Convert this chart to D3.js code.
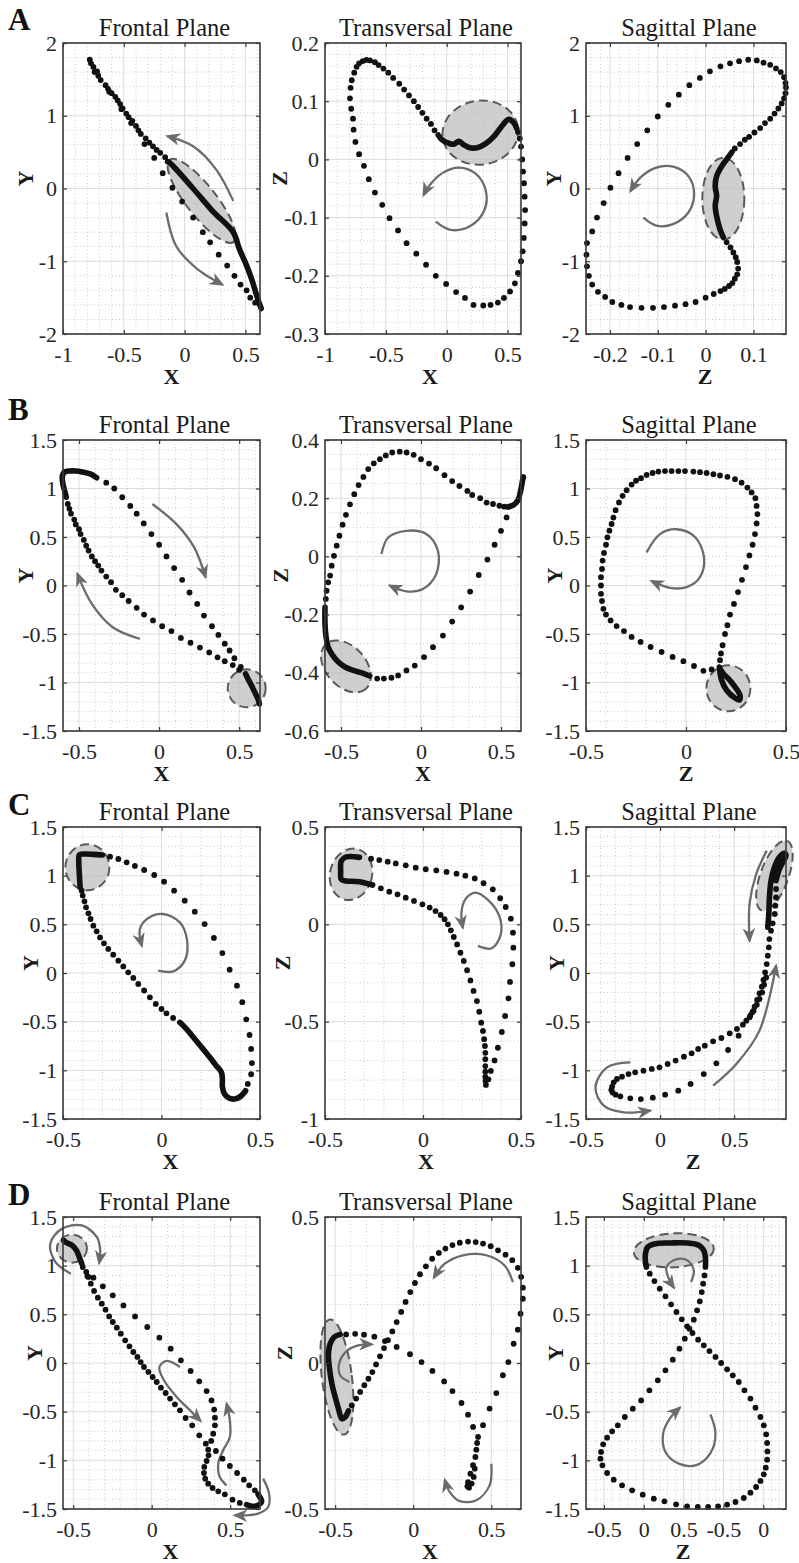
<!DOCTYPE html>
<html>
<head>
<meta charset="utf-8">
<script src="https://cdn.jsdelivr.net/npm/d3@7"></script>
<style>
body { margin: 0; background: #fff; }
</style>
</head>
<body>
<div id="chart"></div>
<script>
// ---------------- data ----------------
// tick values
const ticksX1 = [-1, -0.5, 0, 0.5];
const ticksHalf = [-0.5, 0, 0.5];
const ticksY2 = [-2, -1, 0, 1, 2];
const ticksY15 = [-1.5, -1, -0.5, 0, 0.5, 1, 1.5];
const ticksZA = [-0.3, -0.2, -0.1, 0, 0.1, 0.2];
const ticksZsag = [-0.2, -0.1, 0, 0.1];
const ticksZB = [-0.6, -0.4, -0.2, 0, 0.2, 0.4];
const ticksZC = [-1, -0.5, 0, 0.5];
const ticksZD = [-0.5, 0, 0.5];
const ticksSagD = [-0.5, 0, 0.5, 1, 1.5];
const labelsSagD = ["-0.5", "0", "0.5", "-0.5", "0"];

// ---- row A ----
const frontADots = [[-0.78,1.77],[-0.77,1.72],[-0.75,1.67],[-0.74,1.60],[-0.72,1.61],[-0.71,1.55],[-0.69,1.49],[-0.65,1.42],[-0.63,1.37],[-0.62,1.33],[-0.60,1.31],[-0.57,1.26],[-0.55,1.21],[-0.53,1.16],[-0.52,1.09],[-0.51,1.10],[-0.48,1.03],[-0.46,0.98],[-0.44,0.90],[-0.43,0.93],[-0.40,0.86],[-0.38,0.80],[-0.36,0.75],[-0.32,0.69],[-0.29,0.63],[-0.26,0.58],[-0.23,0.53],[-0.20,0.49],[-0.16,0.43],
  [-0.33,0.61],[-0.25,0.42],[-0.18,0.21],[-0.10,0.01],[-0.02,-0.18],[0.07,-0.40],[0.15,-0.60],[0.21,-0.74],[0.28,-0.91],[0.35,-1.06],[0.41,-1.20],[0.46,-1.32],[0.51,-1.40],[0.54,-1.50],[0.58,-1.57]];
const frontATrace = [[[-0.14,0.37],[-0.12,0.35],[0.07,0.0],[0.23,-0.31],[0.40,-0.60],[0.45,-0.83],[0.51,-1.06],[0.55,-1.24],[0.58,-1.40],[0.61,-1.56],[0.63,-1.65]]];
const frontAZone = [0.14, -0.17];
const frontAArrows = [
  [[0.40,-0.17],[0.26,0.26],[0.07,0.58],[-0.14,0.72]],
  [[-0.15,-0.33],[-0.07,-0.79],[0.10,-1.10],[0.31,-1.32]]
];

const transADots = [[0.585,0.047],[0.60,0.036],[0.61,0.022],[0.62,0.0],[0.627,-0.021],[0.635,-0.041],[0.64,-0.064],[0.644,-0.087],[0.64,-0.11],[0.633,-0.135],[0.624,-0.158],[0.61,-0.175],[0.585,-0.195],[0.56,-0.213],[0.52,-0.227],[0.47,-0.238],[0.42,-0.246],[0.36,-0.25],[0.30,-0.251],[0.22,-0.25],[0.15,-0.238],[0.077,-0.228],[-0.005,-0.214],[-0.09,-0.20],[-0.17,-0.181],[-0.25,-0.162],[-0.33,-0.144],[-0.40,-0.122],[-0.47,-0.101],[-0.53,-0.078],[-0.59,-0.057],[-0.64,-0.034],[-0.68,-0.011],[-0.72,0.009],[-0.75,0.030],[-0.765,0.051],[-0.77,0.070],[-0.785,0.087],[-0.795,0.105],[-0.79,0.123],[-0.78,0.136],[-0.76,0.149],[-0.74,0.159],[-0.72,0.165],[-0.69,0.169],[-0.66,0.171],[-0.63,0.170],[-0.59,0.167],[-0.56,0.162],[-0.52,0.156],[-0.48,0.149],[-0.44,0.140],[-0.39,0.130],[-0.35,0.12],[-0.31,0.11],[-0.27,0.10],[-0.235,0.09],[-0.20,0.08],[-0.165,0.07],[-0.13,0.061],[-0.10,0.05]];
const transATrace = [[[-0.07,0.042],[-0.04,0.034],[0.0,0.029],[0.055,0.026],[0.10,0.031],[0.14,0.025],[0.19,0.020],[0.25,0.020],[0.32,0.027],[0.39,0.040],[0.46,0.059],[0.51,0.069],[0.55,0.063],[0.575,0.053]]];
const transAZone = [0.276, 0.046];
const transAArrows = [
  [[-0.09,-0.107],[0.03,-0.121],[0.19,-0.115],[0.31,-0.087],[0.32,-0.053],[0.235,-0.024],[0.10,-0.014],[-0.04,-0.024],[-0.15,-0.047],[-0.19,-0.061]]
];

const sagADots = [[0.044,-0.74],[0.052,-0.81],[0.058,-0.88],[0.063,-0.945],[0.066,-1.01],[0.068,-1.10],[0.066,-1.18],[0.061,-1.24],[0.056,-1.30],[0.049,-1.34],[0.040,-1.38],[0.031,-1.41],[0.017,-1.45],[0.0,-1.50],[-0.021,-1.56],[-0.042,-1.59],[-0.064,-1.61],[-0.087,-1.63],[-0.11,-1.64],[-0.134,-1.64],[-0.158,-1.63],[-0.176,-1.60],[-0.195,-1.56],[-0.21,-1.49],[-0.225,-1.42],[-0.237,-1.32],[-0.244,-1.20],[-0.248,-1.07],[-0.249,-0.91],[-0.248,-0.75],[-0.237,-0.59],[-0.227,-0.40],[-0.213,-0.20],[-0.199,0.01],[-0.182,0.21],[-0.163,0.42],[-0.143,0.61],[-0.122,0.80],[-0.10,0.99],[-0.078,1.15],[-0.056,1.29],[-0.034,1.42],[-0.012,1.52],[0.009,1.61],[0.031,1.68],[0.051,1.72],[0.07,1.75],[0.089,1.77],[0.107,1.76],[0.121,1.73],[0.135,1.70],[0.147,1.65],[0.157,1.60],[0.164,1.53],[0.167,1.45],[0.168,1.39],[0.167,1.31],[0.164,1.24],[0.159,1.17],[0.152,1.10],[0.144,1.03],[0.135,0.96],[0.124,0.90],[0.114,0.83],[0.102,0.77],[0.091,0.71],[0.082,0.67],[0.072,0.61],[0.061,0.55]];
const sagATrace = [[[0.055,0.50],[0.044,0.40],[0.033,0.30],[0.023,0.17],[0.020,0.03],[0.023,-0.10],[0.020,-0.24],[0.023,-0.38],[0.030,-0.56],[0.037,-0.67]]];
const sagAZone = [0.037, -0.14];
const sagAArrows = [
  [[-0.13,-0.40],[-0.103,-0.51],[-0.068,-0.49],[-0.036,-0.33],[-0.024,-0.08],[-0.036,0.17],[-0.068,0.30],[-0.106,0.28],[-0.137,0.145],[-0.157,-0.036]]
];

// ---- row B ----
const frontBDots = [[-0.57,0.84],[-0.56,0.79],[-0.55,0.74],[-0.53,0.68],[-0.52,0.63],[-0.50,0.58],[-0.49,0.53],[-0.47,0.47],[-0.455,0.41],[-0.44,0.36],[-0.42,0.30],[-0.40,0.25],[-0.38,0.205],[-0.36,0.154],[-0.33,0.092],[-0.30,0.034],[-0.27,-0.045],[-0.23,-0.10],[-0.19,-0.16],[-0.14,-0.23],[-0.094,-0.30],[-0.038,-0.36],[0.019,-0.42],[0.077,-0.47],[0.136,-0.54],[0.196,-0.59],[0.255,-0.64],[0.313,-0.69],[0.365,-0.74],[0.41,-0.78],[0.46,-0.82],[0.50,-0.87],
  [-0.33,1.06],[-0.28,1.00],[-0.23,0.91],[-0.18,0.82],[-0.14,0.74],[-0.096,0.64],[-0.048,0.53],[0.0,0.42],[0.046,0.30],[0.094,0.18],[0.144,0.058],[0.19,-0.072],[0.238,-0.19],[0.28,-0.31],[0.33,-0.42],[0.37,-0.51],[0.41,-0.60],[0.44,-0.67],[0.47,-0.75],[0.51,-0.84]];
const frontBTrace = [
  [[-0.58,0.91],[-0.59,0.98],[-0.60,1.04],[-0.605,1.11],[-0.60,1.15],[-0.59,1.17],[-0.56,1.18],[-0.52,1.18],[-0.48,1.17],[-0.43,1.15],[-0.39,1.11]],
  [[0.54,-0.91],[0.557,-0.97],[0.58,-1.04],[0.60,-1.11],[0.62,-1.18],[0.626,-1.22]]
];
const frontBZone = [0.547, -1.06];
const frontBArrows = [
  [[-0.042,0.84],[0.11,0.63],[0.22,0.39],[0.29,0.086]],
  [[-0.12,-0.55],[-0.29,-0.43],[-0.42,-0.19],[-0.51,0.12]]
];

const transBDots = [[0.55,0.171],[0.52,0.171],[0.49,0.174],[0.45,0.18],[0.41,0.185],[0.37,0.20],[0.32,0.211],[0.29,0.225],[0.24,0.242],[0.195,0.259],[0.147,0.279],[0.095,0.303],[0.05,0.319],[0.0,0.334],[-0.046,0.349],[-0.09,0.357],[-0.133,0.36],[-0.18,0.357],[-0.22,0.347],[-0.257,0.334],[-0.295,0.32],[-0.33,0.30],[-0.36,0.273],[-0.39,0.245],[-0.417,0.214],[-0.444,0.179],[-0.469,0.143],[-0.49,0.109],[-0.51,0.071],[-0.527,0.037],[-0.544,0.002],[-0.558,-0.032],[-0.568,-0.066],[-0.58,-0.089],[-0.59,-0.118],[-0.595,-0.146],
  [-0.274,-0.42],[-0.232,-0.42],[-0.185,-0.417],[-0.143,-0.409],[-0.091,-0.392],[-0.039,-0.375],[0.019,-0.346],[0.075,-0.312],[0.137,-0.272],[0.195,-0.224],[0.251,-0.175],[0.307,-0.121],[0.361,-0.064],[0.415,-0.011],[0.46,0.04],[0.50,0.088],[0.535,0.134]];
const transBTrace = [
  [[-0.60,-0.175],[-0.60,-0.232],[-0.593,-0.278],[-0.58,-0.312],[-0.552,-0.34],[-0.517,-0.363],[-0.475,-0.38],[-0.423,-0.392],[-0.37,-0.40],[-0.32,-0.411]],
  [[0.54,0.17],[0.577,0.176],[0.604,0.191],[0.618,0.214],[0.627,0.237],[0.635,0.262],[0.64,0.273]]
];
const transBZone = [-0.469, -0.378];
const transBArrows = [
  [[-0.247,0.008],[-0.205,0.065],[-0.091,0.088],[0.033,0.077],[0.106,0.019],[0.095,-0.061],[0.012,-0.112],[-0.091,-0.12],[-0.195,-0.10]]
];

const sagBDots = [[0.128,-0.866],[0.087,-0.88],[0.04,-0.83],[-0.013,-0.78],[-0.067,-0.736],[-0.122,-0.685],[-0.177,-0.634],[-0.227,-0.582],[-0.272,-0.53],[-0.31,-0.47],[-0.347,-0.418],[-0.377,-0.36],[-0.40,-0.30],[-0.413,-0.24],[-0.42,-0.16],[-0.425,-0.086],[-0.425,0.0],[-0.425,0.086],[-0.42,0.17],[-0.417,0.257],[-0.41,0.336],[-0.40,0.42],[-0.393,0.497],[-0.383,0.565],[-0.372,0.634],[-0.363,0.70],[-0.352,0.777],[-0.335,0.856],[-0.317,0.925],[-0.297,0.983],[-0.272,1.04],[-0.25,1.08],[-0.225,1.106],[-0.197,1.14],[-0.167,1.16],[-0.138,1.175],[-0.105,1.18],[-0.072,1.18],[-0.038,1.18],[-0.005,1.18],[0.037,1.175],[0.07,1.168],[0.103,1.16],[0.137,1.147],[0.17,1.134],[0.207,1.12],[0.245,1.096],[0.278,1.06],[0.307,1.01],[0.328,0.96],[0.347,0.90],[0.353,0.82],[0.357,0.736],[0.353,0.64],[0.345,0.53],[0.333,0.42],[0.317,0.31],[0.30,0.19],[0.28,0.058],[0.26,-0.068],[0.24,-0.19],[0.22,-0.30],[0.207,-0.41],[0.195,-0.50],[0.183,-0.616],[0.175,-0.70],[0.17,-0.77]];
const sagBTrace = [[[0.167,-0.84],[0.178,-0.976],[0.203,-1.08],[0.245,-1.16],[0.267,-1.18],[0.27,-1.13],[0.245,-1.045],[0.212,-0.96],[0.187,-0.91],[0.17,-0.856]]];
const sagBZone = [0.212, -1.06];
const sagBArrows = [
  [[-0.197,0.342],[-0.13,0.53],[-0.047,0.58],[0.045,0.50],[0.09,0.29],[0.07,0.086],[0.003,-0.017],[-0.08,-0.024],[-0.172,0.045]]
];

// ---- row C ----
const frontCDots = [[-0.261,1.195],[-0.219,1.171],[-0.177,1.137],[-0.135,1.10],[-0.088,1.058],[-0.037,1.007],[0.013,0.938],[0.064,0.846],[0.118,0.743],[0.169,0.63],[0.219,0.503],[0.266,0.36],[0.309,0.205],[0.346,0.034],[0.383,-0.13],[0.41,-0.30],[0.43,-0.476],[0.447,-0.637],[0.455,-0.78],[0.459,-0.925],[0.455,-1.04],[0.438,-1.14],
  [0.059,-0.462],[0.025,-0.414],[0.0,-0.37],[-0.029,-0.318],[-0.059,-0.25],[-0.088,-0.18],[-0.118,-0.113],[-0.143,-0.051],[-0.169,0.007],[-0.194,0.068],[-0.219,0.127],[-0.245,0.188],[-0.27,0.247],[-0.292,0.305],[-0.312,0.366],[-0.329,0.428],[-0.346,0.486],[-0.36,0.555],[-0.371,0.613],[-0.383,0.675],[-0.391,0.736],[-0.40,0.795],[-0.405,0.846]];
const frontCTrace = [
  [[-0.413,0.88],[-0.417,1.017],[-0.42,1.154],[-0.417,1.216],[-0.388,1.223],[-0.346,1.219],[-0.30,1.212]],
  [[0.427,-1.21],[0.40,-1.27],[0.371,-1.295],[0.342,-1.284],[0.32,-1.243],[0.309,-1.168],[0.309,-1.089],[0.304,-1.02],[0.278,-0.952],[0.245,-0.866],[0.211,-0.78],[0.169,-0.678],[0.126,-0.575],[0.093,-0.507]]
];
const frontCZone = [-0.376, 1.086];
const frontCArrows = [
  [[-0.017,0.024],[0.059,0.017],[0.118,0.127],[0.13,0.332],[0.093,0.52],[0.008,0.606],[-0.067,0.565],[-0.11,0.452],[-0.10,0.28]]
];

const transCDots = [[-0.215,0.185],[-0.172,0.168],[-0.13,0.154],[-0.088,0.137],[-0.046,0.12],[-0.003,0.103],[0.034,0.086],[0.064,0.068],[0.09,0.048],[0.11,0.026],[0.127,0.0],[0.142,-0.031],[0.157,-0.065],[0.174,-0.103],[0.191,-0.146],[0.208,-0.188],[0.225,-0.236],[0.242,-0.288],[0.258,-0.342],[0.275,-0.394],[0.287,-0.449],[0.297,-0.505],[0.306,-0.548],[0.312,-0.59],[0.316,-0.625],[0.318,-0.66],[0.318,-0.693],[0.318,-0.728],[0.318,-0.757],[0.318,-0.784],[0.319,-0.805],[0.321,-0.825],
  [0.334,-0.796],[0.346,-0.753],[0.365,-0.699],[0.382,-0.634],[0.402,-0.553],[0.419,-0.471],[0.436,-0.38],[0.444,-0.296],[0.456,-0.205],[0.461,-0.12],[0.459,-0.043],[0.448,0.029],[0.422,0.089],[0.394,0.134],[0.356,0.18],[0.309,0.211],[0.264,0.236],[0.216,0.25],[0.171,0.26],[0.12,0.269],[0.068,0.277],[0.014,0.283],[-0.037,0.291],[-0.088,0.303],[-0.139,0.313],[-0.18,0.322],[-0.223,0.33],[-0.265,0.337]];
const transCTrace = [[[-0.324,0.344],[-0.392,0.346],[-0.417,0.325],[-0.42,0.274],[-0.417,0.231],[-0.395,0.223],[-0.324,0.219],[-0.257,0.202]]];
const transCZone = [-0.367, 0.257];
const transCArrows = [
  [[0.28,-0.111],[0.351,-0.123],[0.397,-0.051],[0.389,0.043],[0.334,0.123],[0.267,0.163],[0.216,0.128],[0.196,0.06],[0.203,-0.017]]
];

const sagCDots = [[0.783,0.863],[0.783,0.777],[0.778,0.692],[0.774,0.606],[0.76,0.51],[0.749,0.435],
  [0.738,0.349],[0.734,0.264],[0.727,0.178],[0.72,0.092],[0.709,0.007],[0.698,-0.072],[0.687,-0.14],[0.671,-0.209],[0.655,-0.277],[0.638,-0.346],[0.622,-0.404],[0.604,-0.455],
  [0.716,-0.045],[0.702,-0.12],[0.689,-0.199],[0.671,-0.267],[0.653,-0.325],[0.631,-0.387],[0.609,-0.438],[0.582,-0.49],
  [0.559,-0.531],[0.519,-0.575],[0.47,-0.62],[0.414,-0.668],[0.358,-0.702],[0.302,-0.747],[0.257,-0.781],[0.213,-0.825],[0.161,-0.86],[0.105,-0.90],[0.051,-0.935],[-0.004,-0.969],[-0.056,-0.986],[-0.112,-1.003],[-0.168,-1.02],[-0.213,-1.038],[-0.257,-1.065],[-0.291,-1.089],[-0.313,-1.123],[-0.324,-1.168],[-0.329,-1.202],[-0.32,-1.229],[-0.30,-1.25],[-0.268,-1.267],[-0.201,-1.288],[-0.13,-1.295],[-0.049,-1.281],[0.034,-1.25],[0.123,-1.209],[0.206,-1.14],[0.295,-1.038],[0.38,-0.928],[0.459,-0.791],[0.53,-0.644]];
const sagCTrace = [[[0.727,0.47],[0.734,0.606],[0.738,0.777],[0.749,0.949],[0.772,1.086],[0.805,1.188],[0.839,1.229],[0.85,1.205],[0.828,1.137],[0.801,1.051],[0.783,0.949]]];
const sagCZone = [0.772, 1.0];
const sagCArrows = [
  [[0.72,1.257],[0.649,1.017],[0.604,0.709],[0.604,0.332]],
  [[0.358,-1.158],[0.515,-0.935],[0.671,-0.592],[0.783,0.075]],
  [[-0.201,-0.918],[-0.358,-0.969],[-0.436,-1.175],[-0.38,-1.363],[-0.246,-1.432],[-0.067,-1.414]]
];

// ---- row D ----
const frontDDots = [[-0.403,0.884],[-0.371,0.877],[-0.311,0.788],[-0.248,0.695],[-0.18,0.592],[-0.106,0.479],[-0.028,0.37],[0.049,0.26],[0.121,0.147],[0.186,0.027],[0.248,-0.082],[0.303,-0.188],[0.35,-0.288],[0.381,-0.384],[0.398,-0.479],[0.403,-0.562],[0.403,-0.64],[0.392,-0.726],[0.379,-0.801],
  [-0.439,0.986],[-0.417,0.935],[-0.409,0.89],[-0.388,0.815],[-0.367,0.74],[-0.343,0.671],[-0.318,0.61],[-0.294,0.548],[-0.271,0.479],[-0.248,0.421],[-0.222,0.363],[-0.197,0.301],[-0.169,0.233],[-0.142,0.171],[-0.117,0.113],[-0.091,0.062],[-0.07,0.01],[-0.049,-0.041],[-0.021,-0.092],[0.006,-0.144],[0.032,-0.195],[0.059,-0.253],[0.089,-0.308],[0.117,-0.366],[0.148,-0.425],[0.18,-0.486],[0.216,-0.565],[0.258,-0.64],[0.303,-0.743],
  [0.345,-0.829],[0.36,-0.89],[0.362,-0.949],[0.35,-1.007],[0.335,-1.068],[0.333,-1.13],[0.341,-1.188],[0.36,-1.24],[0.388,-1.284],[0.424,-1.318],[0.466,-1.349],[0.515,-1.404],[0.561,-1.438],
  [0.657,-1.308],[0.621,-1.257],[0.587,-1.199],[0.544,-1.13],[0.498,-1.058],[0.451,-0.983],[0.409,-0.904]];
const frontDTrace = [
  [[-0.561,1.26],[-0.54,1.233],[-0.508,1.209],[-0.48,1.158],[-0.46,1.082],[-0.445,1.02]],
  [[0.604,-1.455],[0.646,-1.473],[0.678,-1.462],[0.70,-1.428],[0.695,-1.394],[0.678,-1.349]]
];
const frontDZone = [-0.508, 1.175];
const frontDArrows = [
  [[-0.515,0.918],[-0.614,1.038],[-0.646,1.226],[-0.572,1.38],[-0.445,1.414],[-0.35,1.295],[-0.328,1.158],[-0.335,1.027]],
  [[0.18,-0.041],[0.095,0.021],[0.049,-0.041],[0.078,-0.178],[0.159,-0.349],[0.244,-0.486],[0.311,-0.596]],
  [[0.477,-1.257],[0.434,-1.171],[0.424,-1.034],[0.455,-0.897],[0.498,-0.76],[0.498,-0.589],[0.477,-0.418]],
  [[0.71,-1.188],[0.748,-1.342],[0.742,-1.479],[0.678,-1.548],[0.604,-1.565],[0.53,-1.565]]
];

const transDDots = [[-0.394,-0.145],[-0.366,-0.122],[-0.34,-0.099],[-0.313,-0.076],[-0.287,-0.054],[-0.262,-0.031],[-0.238,-0.005],[-0.213,0.023],[-0.187,0.051],[-0.162,0.078],[-0.134,0.108],[-0.106,0.14],[-0.077,0.175],[-0.049,0.209],[-0.019,0.243],[0.011,0.274],[0.043,0.304],[0.081,0.331],[0.121,0.357],[0.164,0.377],[0.206,0.392],[0.251,0.404],[0.298,0.412],[0.351,0.416],[0.40,0.414],[0.447,0.409],[0.496,0.40],[0.543,0.386],[0.591,0.371],[0.634,0.352],[0.67,0.326],[0.691,0.295],[0.702,0.258],[0.702,0.22],[0.687,0.169],[0.67,0.114],[0.643,0.066],[0.609,0.003],[0.574,-0.042],[0.532,-0.103],[0.489,-0.156],[0.447,-0.213],
  [0.415,-0.253],[0.409,-0.274],[0.404,-0.297],[0.398,-0.322],[0.383,-0.35],[0.366,-0.379],[0.351,-0.408],[0.347,-0.422],[0.357,-0.427],[0.374,-0.413],[0.387,-0.39],[0.394,-0.362],[0.383,-0.219],[0.351,-0.177],[0.309,-0.137],
  [0.251,-0.096],[0.198,-0.063],[0.123,-0.027],[0.053,0.003],[-0.021,0.03],[-0.106,0.055],[-0.181,0.075],[-0.43,0.098],[-0.372,0.10],[-0.315,0.097],[-0.249,0.09]];
const transDTrace = [[[-0.468,0.098],[-0.506,0.089],[-0.532,0.066],[-0.543,0.026],[-0.536,-0.019],[-0.521,-0.071],[-0.50,-0.116],[-0.479,-0.156],[-0.457,-0.191],[-0.436,-0.185],[-0.415,-0.164]]];
const transDZone = [-0.489, -0.048];
const transDArrows = [
  [[-0.409,-0.065],[-0.468,-0.042],[-0.472,0.003],[-0.421,0.043],[-0.345,0.061],[-0.266,0.064]],
  [[0.638,0.277],[0.585,0.334],[0.468,0.369],[0.319,0.369],[0.202,0.34],[0.132,0.292]],
  [[0.50,-0.345],[0.489,-0.419],[0.404,-0.47],[0.298,-0.473],[0.234,-0.442],[0.202,-0.40]]
];

const sagDDots = [[0.075,0.918],[0.134,0.842],[0.20,0.764],[0.272,0.685],[0.343,0.603],[0.41,0.524],[0.477,0.449],[0.544,0.377],[0.611,0.308],[0.682,0.24],[0.753,0.182],[0.824,0.123],[0.90,0.062],[0.971,0.0],[1.046,-0.065],[1.117,-0.127],[1.192,-0.195],[1.264,-0.281],[1.339,-0.366],[1.402,-0.459],[1.464,-0.555],[1.506,-0.64],[1.536,-0.733],[1.548,-0.822],[1.552,-0.908],[1.548,-0.993],[1.531,-1.075],[1.506,-1.144],[1.464,-1.212],[1.41,-1.274],[1.339,-1.332],[1.255,-1.387],[1.151,-1.428],[1.046,-1.455],[0.933,-1.473],[0.808,-1.479],[0.678,-1.479],[0.544,-1.473],[0.406,-1.452],[0.259,-1.421],[0.126,-1.394],[-0.013,-1.353],[-0.146,-1.308],[-0.272,-1.257],[-0.377,-1.199],[-0.46,-1.13],[-0.519,-1.051],[-0.544,-0.983],[-0.536,-0.914],[-0.51,-0.836],[-0.46,-0.767],[-0.397,-0.702],[-0.326,-0.64],[-0.238,-0.555],[-0.138,-0.469],[-0.033,-0.384],[0.071,-0.281],[0.176,-0.178],[0.272,-0.075],[0.364,0.034],[0.448,0.147],[0.515,0.25],[0.573,0.353],[0.628,0.445],[0.669,0.541],[0.703,0.634],[0.728,0.729],[0.745,0.815],[0.762,0.90]];
const sagDTrace = [[[0.774,0.986],[0.774,1.082],[0.753,1.158],[0.69,1.209],[0.544,1.233],[0.335,1.233],[0.146,1.226],[0.05,1.192],[0.021,1.123],[0.021,1.038],[0.033,0.986]]];
const sagDZone = [0.377, 1.158];
const sagDArrows = [
  [[0.594,0.832],[0.628,0.952],[0.544,1.055],[0.397,1.062],[0.285,0.986],[0.314,0.866],[0.377,0.774]],
  [[0.837,-0.527],[0.90,-0.726],[0.837,-0.925],[0.649,-1.051],[0.439,-1.034],[0.272,-0.914],[0.243,-0.726],[0.326,-0.572],[0.452,-0.459]]
];

// ---------------- layout ----------------
const width = 799;
const height = 1563;
const cols = [[63, 260], [325, 521], [586, 786]];
const rows = [[43, 334], [440, 731], [827, 1119], [1217, 1509]];

const panels = [
  {row: 0, col: 0, letter: "A", title: "Frontal Plane", xName: "X", yName: "Y", xDom: [-1, 0.62], yDom: [-2, 2], xTicks: ticksX1, yTicks: ticksY2, xMinor: 0.1, yMinor: 0.2,
   dots: frontADots, trace: frontATrace, zone: frontAZone, rx: 52, ry: 15, rot: 52, arrows: frontAArrows, yLab: 30, xLab: 10},
  {row: 0, col: 1, title: "Transversal Plane", xName: "X", yName: "Z", xDom: [-1, 0.61], yDom: [-0.3, 0.2], xTicks: ticksX1, yTicks: ticksZA, xMinor: 0.1, yMinor: 0.02,
   dots: transADots, trace: transATrace, zone: transAZone, rx: 38, ry: 32, rot: -8, arrows: transAArrows, yLab: 38, xLab: 7},
  {row: 0, col: 2, title: "Sagittal Plane", xName: "Z", yName: "Y", xDom: [-0.25, 0.168], yDom: [-2, 2], xTicks: ticksZsag, yTicks: ticksY2, xMinor: 0.02, yMinor: 0.2,
   dots: sagADots, trace: sagATrace, zone: sagAZone, rx: 21, ry: 41, rot: 0, arrows: sagAArrows, yLab: 25, xLab: 19},

  {row: 1, col: 0, letter: "B", title: "Frontal Plane", xName: "X", yName: "Y", xDom: [-0.6, 0.63], yDom: [-1.5, 1.5], xTicks: ticksHalf, yTicks: ticksY15, xMinor: 0.1, yMinor: 0.1,
   dots: frontBDots, trace: frontBTrace, zone: frontBZone, rx: 19, ry: 19, rot: 0, arrows: frontBArrows, yLab: 30, xLab: 0},
  {row: 1, col: 1, title: "Transversal Plane", xName: "X", yName: "Z", xDom: [-0.6, 0.625], yDom: [-0.6, 0.4], xTicks: ticksHalf, yTicks: ticksZB, xMinor: 0.1, yMinor: 0.05,
   dots: transBDots, trace: transBTrace, zone: transBZone, rx: 30, ry: 20, rot: 48, arrows: transBArrows, yLab: 37, xLab: 0},
  {row: 1, col: 2, title: "Sagittal Plane", xName: "Z", yName: "Y", xDom: [-0.5, 0.5], yDom: [-1.5, 1.5], xTicks: ticksHalf, yTicks: ticksY15, xMinor: 0.1, yMinor: 0.1,
   dots: sagBDots, trace: sagBTrace, zone: sagBZone, rx: 22, ry: 23, rot: 0, arrows: sagBArrows, yLab: 24, xLab: 0},

  {row: 2, col: 0, letter: "C", title: "Frontal Plane", xName: "X", yName: "Y", xDom: [-0.5, 0.5], yDom: [-1.5, 1.5], xTicks: ticksHalf, yTicks: ticksY15, xMinor: 0.1, yMinor: 0.1,
   dots: frontCDots, trace: frontCTrace, zone: frontCZone, rx: 22, ry: 23, rot: 0, arrows: frontCArrows, yLab: 25, xLab: 9},
  {row: 2, col: 1, title: "Transversal Plane", xName: "X", yName: "Z", xDom: [-0.5, 0.5], yDom: [-1, 0.5], xTicks: ticksHalf, yTicks: ticksZC, xMinor: 0.1, yMinor: 0.1,
   dots: transCDots, trace: transCTrace, zone: transCZone, rx: 21, ry: 26, rot: 15, arrows: transCArrows, yLab: 35, xLab: 3},
  {row: 2, col: 2, title: "Sagittal Plane", xName: "Z", yName: "Y", xDom: [-0.5, 0.85], yDom: [-1.5, 1.5], xTicks: ticksHalf, yTicks: ticksY15, xMinor: 0.1, yMinor: 0.1,
   dots: sagCDots, trace: sagCTrace, zone: sagCZone, rx: 14, ry: 37, rot: 20, arrows: sagCArrows, yLab: 22, xLab: 7},

  {row: 3, col: 0, letter: "D", title: "Frontal Plane", xName: "X", yName: "Y", xDom: [-0.565, 0.69], yDom: [-1.5, 1.5], xTicks: ticksHalf, yTicks: ticksY15, xMinor: 0.1, yMinor: 0.1,
   dots: frontDDots, trace: frontDTrace, zone: frontDZone, rx: 15, ry: 14, rot: 0, arrows: frontDArrows, yLab: 21, xLab: 9},
  {row: 3, col: 1, title: "Transversal Plane", xName: "X", yName: "Z", xDom: [-0.565, 0.69], yDom: [-0.5, 0.5], xTicks: ticksHalf, yTicks: ticksZD, xMinor: 0.1, yMinor: 0.1,
   dots: transDDots, trace: transDTrace, zone: transDZone, rx: 15, ry: 58, rot: -7, arrows: transDArrows, yLab: 33, xLab: 7},
  {row: 3, col: 2, title: "Sagittal Plane", xName: "Z", yName: "Y", xDom: [-0.725, 1.785], yDom: [-1.5, 1.5], xTicks: ticksSagD, xLabels: labelsSagD, yTicks: ticksY15, xMinor: 0.1, yMinor: 0.1,
   dots: sagDDots, trace: sagDTrace, zone: sagDZone, rx: 40, ry: 17, rot: -3, arrows: sagDArrows, yLab: 23, xLab: -3}
];

const letterY = [30, 420, 815, 1205];
const serif = "'Liberation Serif', 'Times New Roman', serif";
const inkGrey = "#6b6b6b";

const svg = d3.select("#chart")
    .append("svg")
    .attr("width", width)
    .attr("height", height)
    .style("display", "block")

svg.append("rect").attr("width", width).attr("height", height).attr("fill", "#fff")

svg.append("defs").append("marker")
    .attr("id", "head")
    .attr("viewBox", "0 0 12 10")
    .attr("refX", 10)
    .attr("refY", 5)
    .attr("markerWidth", 15)
    .attr("markerHeight", 12.5)
    .attr("markerUnits", "userSpaceOnUse")
    .attr("orient", "auto")
  .append("path")
    .attr("d", "M0,0 L12,5 L0,10 L3.5,5 Z")
    .attr("fill", inkGrey)

function minorSteps(dom, step, majors) {
    const lo = Math.ceil(dom[0] / step - 1e-6), hi = Math.floor(dom[1] / step + 1e-6);
    return d3.range(lo, hi + 1).map(k => +(k * step).toFixed(4))
        .filter(v => !majors.some(m => Math.abs(m - v) < step / 10));
}

function drawPanel(p) {
    const [x0, x1] = cols[p.col];
    const [y0, y1] = rows[p.row];
    const x = d3.scaleLinear().domain(p.xDom).range([x0, x1]);
    const y = d3.scaleLinear().domain(p.yDom).range([y1, y0]);
    const g = svg.append("g");

    // minor grid
    g.selectAll(".minorX").data(minorSteps(p.xDom, p.xMinor, p.xTicks)).join("line")
        .attr("x1", d => x(d)).attr("x2", d => x(d)).attr("y1", y0).attr("y2", y1)
        .attr("stroke", "#bdbdbd").attr("stroke-width", 0.8).attr("stroke-dasharray", "1,2.5")
    g.selectAll(".minorY").data(minorSteps(p.yDom, p.yMinor, p.yTicks)).join("line")
        .attr("y1", d => y(d)).attr("y2", d => y(d)).attr("x1", x0).attr("x2", x1)
        .attr("stroke", "#bdbdbd").attr("stroke-width", 0.8).attr("stroke-dasharray", "1,2.5")
    // major grid
    g.selectAll(".majorX").data(p.xTicks).join("line")
        .attr("x1", d => x(d)).attr("x2", d => x(d)).attr("y1", y0).attr("y2", y1)
        .attr("stroke", "#dcdcdc").attr("stroke-width", 1)
    g.selectAll(".majorY").data(p.yTicks).join("line")
        .attr("y1", d => y(d)).attr("y2", d => y(d)).attr("x1", x0).attr("x2", x1)
        .attr("stroke", "#dcdcdc").attr("stroke-width", 1)

    // grey zone
    g.append("ellipse")
        .attr("transform", `translate(${x(p.zone[0])},${y(p.zone[1])}) rotate(${p.rot})`)
        .attr("rx", p.rx).attr("ry", p.ry)
        .attr("fill", "#bcbcbc").attr("fill-opacity", 0.72)
        .attr("stroke", "#5a5a5a").attr("stroke-width", 2).attr("stroke-dasharray", "9,5")

    // rotation arrows
    const arrowLine = d3.line().x(d => x(d[0])).y(d => y(d[1])).curve(d3.curveCatmullRom.alpha(0.5))
    g.selectAll(".arrow").data(p.arrows).join("path")
        .attr("d", arrowLine)
        .attr("fill", "none").attr("stroke", inkGrey).attr("stroke-width", 2.3)
        .attr("marker-end", "url(#head)")

    // dense stretches of the trajectory
    const traceLine = d3.line().x(d => x(d[0])).y(d => y(d[1])).curve(d3.curveCatmullRom.alpha(0.5))
    g.selectAll(".trace").data(p.trace).join("path")
        .attr("d", traceLine)
        .attr("fill", "none").attr("stroke", "#111").attr("stroke-width", 5.6)
        .attr("stroke-linecap", "round").attr("stroke-linejoin", "round")

    g.selectAll("circle").data(p.dots).join("circle")
        .attr("cx", d => x(d[0])).attr("cy", d => y(d[1]))
        .attr("r", 2.9).attr("fill", "#111")

    // axes
    const fmt = p.xLabels ? (d, i) => p.xLabels[i] : d => String(d);
    const xAxis = g.append("g").attr("transform", `translate(0,${y1})`)
        .call(d3.axisBottom(x).tickValues(p.xTicks).tickFormat(fmt).tickSize(-4).tickSizeOuter(0).tickPadding(12))
    const xTop = g.append("g").attr("transform", `translate(0,${y0})`)
        .call(d3.axisTop(x).tickValues(p.xTicks).tickFormat("").tickSize(-4).tickSizeOuter(0))
    const yAxis = g.append("g").attr("transform", `translate(${x0},0)`)
        .call(d3.axisLeft(y).tickValues(p.yTicks).tickFormat(d => String(d)).tickSize(-4).tickSizeOuter(0).tickPadding(6))
    const yRight = g.append("g").attr("transform", `translate(${x1},0)`)
        .call(d3.axisRight(y).tickValues(p.yTicks).tickFormat("").tickSize(-4).tickSizeOuter(0))
    ;[xAxis, xTop, yAxis, yRight].forEach(a => {
        a.select(".domain").remove()
        a.selectAll(".tick line").attr("stroke", "#3a3a3a").attr("stroke-width", 1.2)
        a.attr("font-family", serif).attr("font-size", 22)
        a.selectAll("text").attr("fill", "#262626")
    })

    g.append("rect")
        .attr("x", x0).attr("y", y0).attr("width", x1 - x0).attr("height", y1 - y0)
        .attr("fill", "none").attr("stroke", "#3a3a3a").attr("stroke-width", 1.6)

    // texts
    g.append("text")
        .text(p.title)
        .attr("x", (x0 + x1) / 2 + 3)
        .attr("y", y0 - 7)
        .attr("text-anchor", "middle")
        .attr("font-family", serif)
        .attr("font-size", 24.5)
        .attr("fill", "#1a1a1a")

    g.append("text")
        .text(p.xName)
        .attr("x", (x0 + x1) / 2 + p.xLab)
        .attr("y", y1 + 50)
        .attr("text-anchor", "middle")
        .attr("font-family", serif)
        .attr("font-weight", "bold")
        .attr("font-size", 22)
        .attr("fill", "#1a1a1a")

    g.append("text")
        .text(p.yName)
        .attr("transform", `translate(${x0 - p.yLab},${(y0 + y1) / 2 - 10}) rotate(-90)`)
        .attr("text-anchor", "middle")
        .attr("font-family", serif)
        .attr("font-weight", "bold")
        .attr("font-size", 22)
        .attr("fill", "#1a1a1a")

    if (p.letter) {
        g.append("text")
            .text(p.letter)
            .attr("x", 8)
            .attr("y", letterY[p.row])
            .attr("font-family", serif)
            .attr("font-weight", "bold")
            .attr("font-size", 31)
            .attr("fill", "#111")
    }
}

panels.forEach(drawPanel)
</script>
</body>
</html>
